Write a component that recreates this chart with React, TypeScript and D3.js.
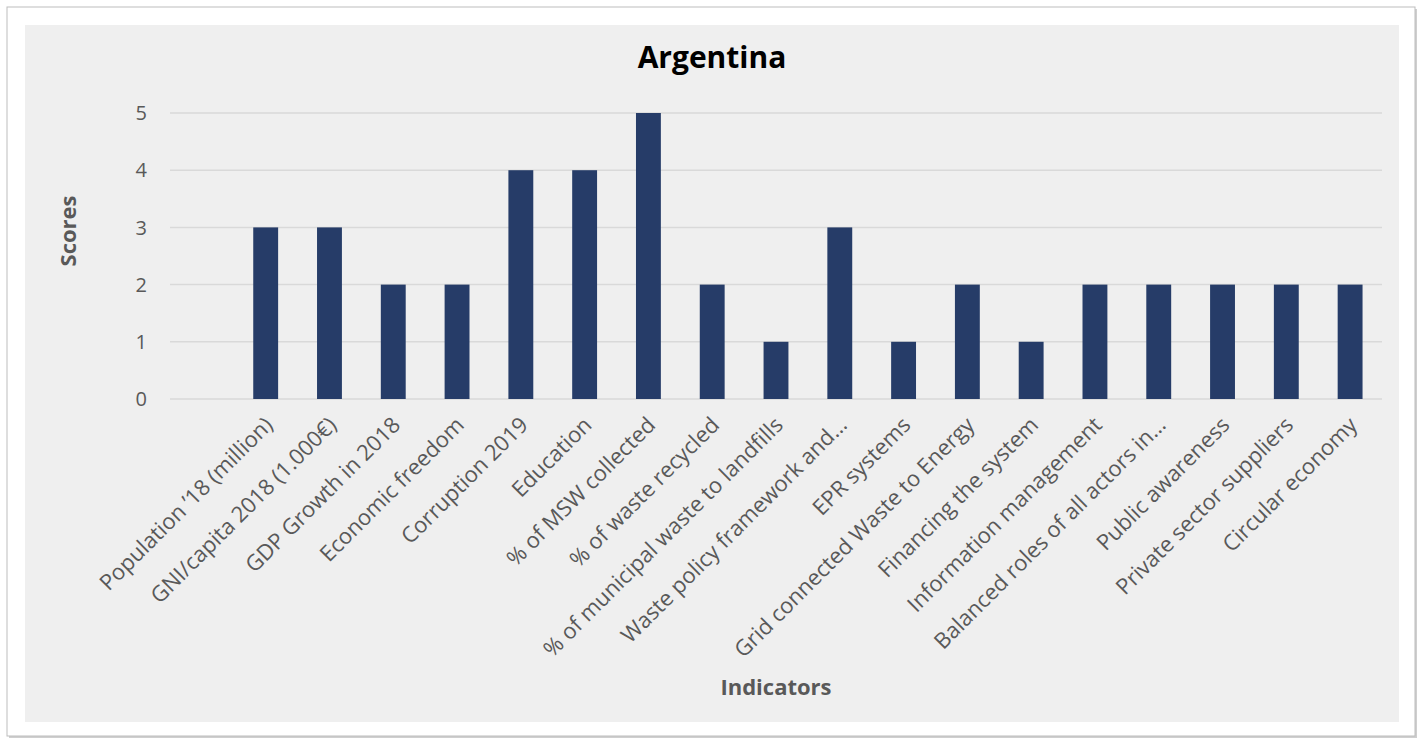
import React from "react";
import * as d3 from "d3";

const title = "Argentina";
const yTitle = "Scores";
const xTitle = "Indicators";
const categories = [
  "",
  "Population \u201918 (million)",
  "GNI/capita 2018 (1.000\u20ac)",
  "GDP Growth in 2018",
  "Economic freedom",
  "Corruption 2019",
  "Education",
  "% of MSW collected",
  "% of waste recycled",
  "% of municipal waste to landfills",
  "Waste policy framework and\u2026",
  "EPR systems",
  "Grid connected Waste to Energy",
  "Financing the system",
  "Information management",
  "Balanced roles of all actors in\u2026",
  "Public awareness",
  "Private sector suppliers",
  "Circular economy",
];
const scores: (number | null)[] = [null, 3, 3, 2, 2, 4, 4, 5, 2, 1, 3, 1, 2, 1, 2, 2, 2, 2, 2];
const yTicks = [0, 1, 2, 3, 4, 5];

const W = 1421;
const H = 739;
const FONT = "'Open Sans', sans-serif";

export default function App() {
  const x = d3.scaleBand<string>().domain(categories.map((c, i) => String(i))).range([170, 1382]).paddingInner(0.61).paddingOuter(0.305);
  const y = d3.scaleLinear().domain([0, 5]).range([399, 113]);
  return (
    <svg width={W} height={H} style={{ position: "absolute", left: 0, top: 0, display: "block" }}>
      <rect x={0} y={0} width={W} height={H} fill="#ffffff" />
      <rect x={9} y={9} width={1408} height={729} fill="#cfcfcf" />
      <rect x={7} y={7} width={1408} height={729} fill="#ffffff" stroke="#bdbdbd" strokeWidth={1} />
      <rect x={25} y={25} width={1374} height={697} fill="#efefef" />
      <text x={712} y={68} textAnchor="middle" fontFamily={FONT} fontWeight="bold" fontSize={30} fill="#000">{title}</text>
      {yTicks.map((t) => (
        <g key={t}>
          <line x1={170} x2={1382} y1={y(t)} y2={y(t)} stroke="#d9d9d9" strokeWidth={1.5} />
          <text x={147} y={y(t)} dy="0.36em" textAnchor="end" fontFamily={FONT} fontSize={20} fill="#595959">{t}</text>
        </g>
      ))}
      {scores.map((v, i) =>
        v == null ? null : (
          <rect key={i} x={x(String(i))} y={y(v)} width={x.bandwidth()} height={y(0) - y(v)} fill="#263c68" />
        )
      )}
      {categories.map((c, i) => {
        if (!c) return null;
        const cx = (x(String(i)) as number) + x.bandwidth() / 2;
        return (
          <text key={i} transform={`translate(${cx + 3},${421}) rotate(-45)`} textAnchor="end" dy="0.35em" fontFamily={FONT} fontSize={22} fill="#595959">{c}</text>
        );
      })}
      <text transform="translate(68,231) rotate(-90)" textAnchor="middle" dy="0.35em" fontFamily={FONT} fontWeight="bold" fontSize={22} fill="#595959">{yTitle}</text>
      <text x={776} y={695} textAnchor="middle" fontFamily={FONT} fontWeight="bold" fontSize={22} fill="#595959">{xTitle}</text>
    </svg>
  );
}
